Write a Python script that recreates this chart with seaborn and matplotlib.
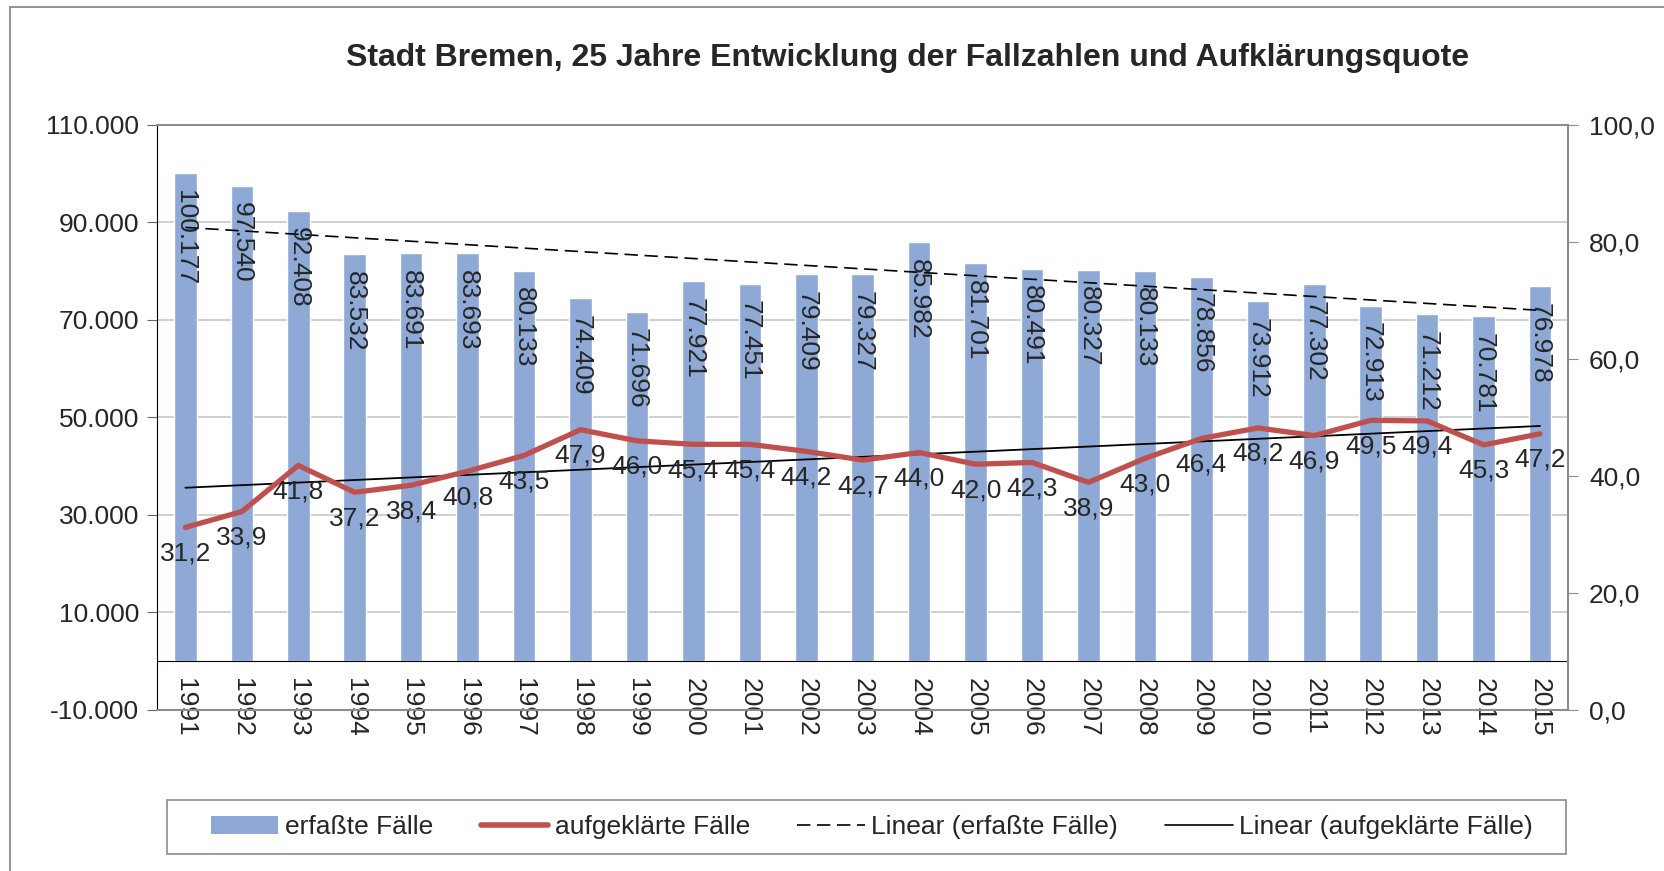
import matplotlib
matplotlib.use("Agg")
import matplotlib.pyplot as plt
import seaborn as sns
import numpy as np
import pandas as pd
from matplotlib.lines import Line2D
from matplotlib.patches import Patch, Rectangle

years = [str(y) for y in range(1991, 2016)]
erfasst = [100177, 97540, 92408, 83532, 83691, 83693, 80133, 74409, 71696, 77921,
           77451, 79409, 79327, 85982, 81701, 80491, 80327, 80133, 78856, 73912,
           77302, 72913, 71212, 70781, 76978]
quote = [31.2, 33.9, 41.8, 37.2, 38.4, 40.8, 43.5, 47.9, 46.0, 45.4,
         45.4, 44.2, 42.7, 44.0, 42.0, 42.3, 38.9, 43.0, 46.4, 48.2,
         46.9, 49.5, 49.4, 45.3, 47.2]

title = "Stadt Bremen, 25 Jahre Entwicklung der Fallzahlen und Aufklärungsquote"
bar_col = "#8EA9D6"
line_col = "#C0504D"
fs = 19

sns.set_style("white")
plt.rcParams["font.family"] = ["Liberation Sans", "DejaVu Sans"]

df = pd.DataFrame({"jahr": years, "erfasst": erfasst, "quote": quote})
df["idx"] = np.arange(len(df))

fig = plt.figure(figsize=(16.65, 8.71), dpi=100)
ax = fig.add_axes([0.0944, 0.185, 0.8475, 0.6715])

sns.barplot(data=df, x="jahr", y="erfasst", color=bar_col, saturation=1,
            width=0.4, ax=ax, zorder=2)
ax.set_ylim(-10000, 110000)
ax.set_xlim(-0.5, len(years) - 0.5)
ax.set_yticks(range(-10000, 110001, 20000))
ax.set_yticklabels([f"{v:,}".replace(",", ".") for v in range(-10000, 110001, 20000)],
                   fontsize=fs)
for y in range(10000, 100000, 20000):
    ax.axhline(y, color="#C8C8C8", lw=1.2, zorder=0)
ax.set_xlabel("")
ax.set_ylabel("")

# bar labels
for i, v in enumerate(erfasst):
    ax.annotate(f"{v:,}".replace(",", "."), (i, v), xytext=(0, -12),
                textcoords="offset points", rotation=-90, ha="center", va="top",
                fontsize=fs, zorder=4)

# linear trend of bars
c1 = np.polyfit(df["idx"], df["erfasst"], 1)
ax.plot(df["idx"], np.polyval(c1, df["idx"]), color="black", lw=1.2,
        dashes=(8, 4), zorder=3)

# x axis at zero
ax.spines["bottom"].set_position(("data", 0))
ax.spines["bottom"].set_color("black")
ax.spines["left"].set_color("black")
ax.spines["top"].set_visible(False)
ax.spines["right"].set_visible(False)
ax.tick_params(axis="x", which="major", length=0, pad=12, labelsize=fs, labelrotation=-90)
ax.set_xticks(np.arange(0.5, len(years) - 1, 1), minor=True)
ax.tick_params(axis="x", which="minor", length=14, direction="inout", color="#666666")
ax.tick_params(axis="y", length=7, color="#666666", direction="out", left=True, pad=6)

ax2 = ax.twinx()
sns.lineplot(data=df, x="idx", y="quote", color=line_col, lw=3.8, ax=ax2, zorder=5)
c2 = np.polyfit(df["idx"], df["quote"], 1)
ax2.plot(df["idx"], np.polyval(c2, df["idx"]), color="black", lw=1.3, zorder=4)
ax2.set_ylim(0, 100)
ax2.set_yticks(range(0, 101, 20))
ax2.set_yticklabels([f"{v},0" for v in range(0, 101, 20)], fontsize=fs)
ax2.set_ylabel("")
ax2.set_xlabel("")
ax2.set_xlim(ax.get_xlim())
for s in ["top", "right", "bottom"]:
    ax2.spines[s].set_color("#8C8C8C")
    ax2.spines[s].set_linewidth(1.5)
ax2.spines["left"].set_visible(False)
ax2.tick_params(axis="y", length=7, color="#8C8C8C", direction="out", right=True, pad=8)
ax2.tick_params(axis="x", bottom=False, labelbottom=False)

for i, v in enumerate(quote):
    ax2.annotate(f"{v:.1f}".replace(".", ","), (i, v), xytext=(0, -10),
                 textcoords="offset points", ha="center", va="top", fontsize=fs, zorder=6)

fig.text(0.545, 0.933, title, ha="center", va="center", fontsize=23, fontweight="bold")

# legend box
fig.add_artist(Rectangle((167 / 1665, 1 - 854 / 871), 1399 / 1665, 54 / 871,
                         transform=fig.transFigure, facecolor="white",
                         edgecolor="#8C8C8C", lw=1.2))
handles = [Patch(facecolor=bar_col, edgecolor="none"),
           Line2D([], [], color=line_col, lw=4),
           Line2D([], [], color="black", lw=1.2, dashes=(8, 4)),
           Line2D([], [], color="black", lw=1.2)]
labels = ["erfaßte Fälle", "aufgeklärte Fälle", "Linear (erfaßte Fälle)",
          "Linear (aufgeklärte Fälle)"]
leg = fig.legend(handles, labels, loc="center", ncol=4, fontsize=fs,
                 bbox_to_anchor=(211 / 1665, 1 - 854 / 871, 1322 / 1665, 54 / 871),
                 mode="expand", frameon=False, handlelength=2.55,
                 handletextpad=0.25, borderaxespad=0, borderpad=0, columnspacing=1.5)

# outer chart border
fig.add_artist(Line2D([10 / 1665, 10 / 1665], [0, 1 - 7 / 871], transform=fig.transFigure,
                      color="#808080", lw=1.2))
fig.add_artist(Line2D([10 / 1665, 1], [1 - 7 / 871, 1 - 7 / 871], transform=fig.transFigure,
                      color="#808080", lw=1.2))

fig.savefig("out.png", dpi=100)
